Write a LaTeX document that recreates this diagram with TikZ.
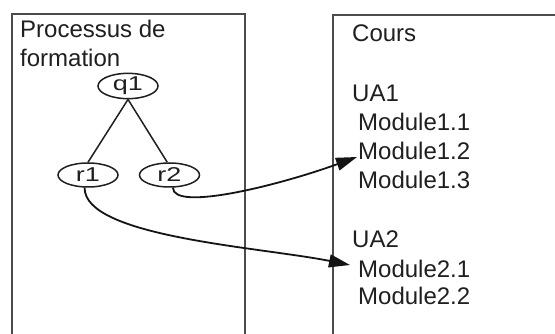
\documentclass[tikz,border=0pt]{standalone}
\usepackage{fontspec}
\setmainfont{Liberation Sans}
\usetikzlibrary{arrows.meta,shapes.geometric,calc}
\begin{document}
\begin{tikzpicture}[x=1pt,y=-1pt,
 frame/.style={draw=black!70, line width=2pt},
 lbl/.style={anchor=base west, inner sep=0pt, font=\fontsize{24}{28}\selectfont, text=black!88},
 st/.style={ellipse, draw=black!88, line width=1.5pt, minimum width=60pt, minimum height=21pt, inner sep=0pt, font=\fontsize{20}{22}\selectfont, text=black!88},
 tree/.style={draw=black!88, line width=1.5pt},
 link/.style={draw=black!92, line width=1.8pt, -{Triangle[length=21pt,width=13pt]}}]
\useasboundingbox (0,0) rectangle (555,334);
\clip (0,0) rectangle (555,334);
\fill[white] (0,0) rectangle (555,334);
\draw[frame] (12,345) -- (12,14) -- (245,14) -- (245,345);
\draw[frame] (332.5,345) -- (332.5,15) -- (565,15);
\node[lbl] (proc) at (20,37.5) {Processus de};
\node[lbl] (form) at (20,66.5) {formation};
\node[st] (q1) at (128,86) {\scalebox{1.35}[1]{q1}};
\node[st, minimum height=24pt] (r1) at (88,175) {\scalebox{1.35}[1]{r1}};
\node[st, minimum height=24pt] (r2) at (169.5,175) {\scalebox{1.35}[1]{r2}};
\draw[tree] (q1.south) -- (r1.north);
\draw[tree] (q1.south) -- (r2.100);
\node[lbl] (cours) at (352,42) {Cours};
\node[lbl] (ua1) at (352,102) {UA1};
\node[lbl] (mod11) at (358,131) {Module1.1};
\node[lbl] (mod12) at (358,160) {Module1.2};
\node[lbl] (mod13) at (358,189) {Module1.3};
\node[lbl] (ua2) at (352,248) {UA2};
\node[lbl] (mod21) at (358,277) {Module2.1};
\node[lbl] (mod22) at (358,305) {Module2.2};
\draw[link] (r2.-75) .. controls (173,212) and (280,185) .. ($(mod12.base west)+(-1,-3)$);
\draw[link] (r1.-105) .. controls (84,237) and (260,247) .. ($(mod21.base west)+(-8,-12)$);
\end{tikzpicture}
\end{document}
